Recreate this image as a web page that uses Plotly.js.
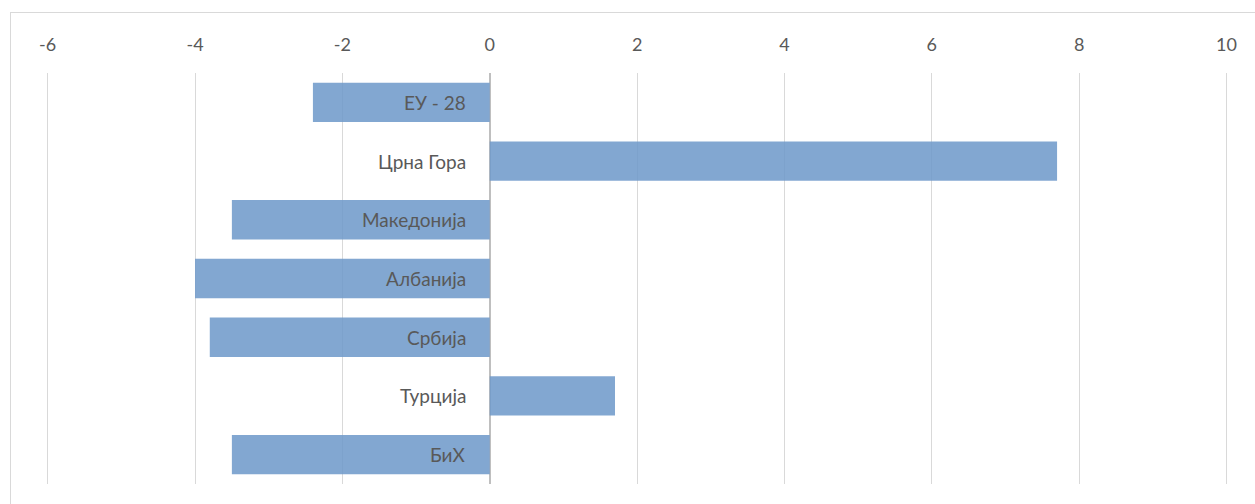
<!DOCTYPE html>
<html>
<head>
<meta charset="utf-8">
<script src="https://cdn.plot.ly/plotly-3.0.1.min.js"></script>
<style>
html,body{margin:0;padding:0;background:#fff;width:1255px;height:504px;overflow:hidden;}
#frame{position:absolute;left:10px;top:12px;width:1260px;height:500px;border:1px solid #d9d9d9;box-sizing:border-box;}
#chart{position:absolute;left:0;top:0;width:1258px;height:498px;}
</style>
</head>
<body>
<div id="frame"><div id="chart"></div></div>
<script>
const categories = ["ЕУ - 28", "Црна Гора", "Македонија", "Албанија", "Србија", "Турција", "БиХ"];
const values = [-2.4, 7.7, -3.5, -4.0, -3.8, 1.7, -3.5];
const tickValues = [-6, -4, -2, 0, 2, 4, 6, 8, 10];

const trace = {
  type: 'bar',
  orientation: 'h',
  x: values,
  y: categories,
  marker: {color: 'rgba(108,152,201,0.85)'},
  hoverinfo: 'x+y'
};

const annotations = categories.map(c => ({
  x: 0, y: c, xref: 'x', yref: 'y',
  text: c, showarrow: false, xanchor: 'right', xshift: -22,
  font: {family: 'Lato, "Open Sans", sans-serif', size: 19, color: '#595959'}
}));

const layout = {
  width: 1258, height: 498,
  margin: {l: 33, r: 41, t: 60, b: 27},
  paper_bgcolor: '#fff', plot_bgcolor: '#fff',
  showlegend: false,
  bargap: 0.33,
  font: {family: 'Lato, "Open Sans", sans-serif', color: '#595959'},
  xaxis: {
    side: 'top', range: [-6.05, 10.02], tickvals: tickValues,
    ticktext: tickValues.map(String),
    showgrid: true, gridcolor: '#d9d9d9', gridwidth: 1,
    zeroline: true, zerolinecolor: '#bfbfbf', zerolinewidth: 1.5,
    ticks: 'outside', ticklen: 14, tickcolor: 'rgba(0,0,0,0)',
    tickfont: {size: 18, color: '#595959'},
    showline: false, fixedrange: true
  },
  yaxis: {
    type: 'category', autorange: 'reversed',
    showticklabels: false, showgrid: false, zeroline: false, showline: false,
    ticks: '', fixedrange: true
  },
  annotations: annotations
};

Plotly.newPlot('chart', [trace], layout, {displayModeBar: false, staticPlot: true});
</script>
</body>
</html>
